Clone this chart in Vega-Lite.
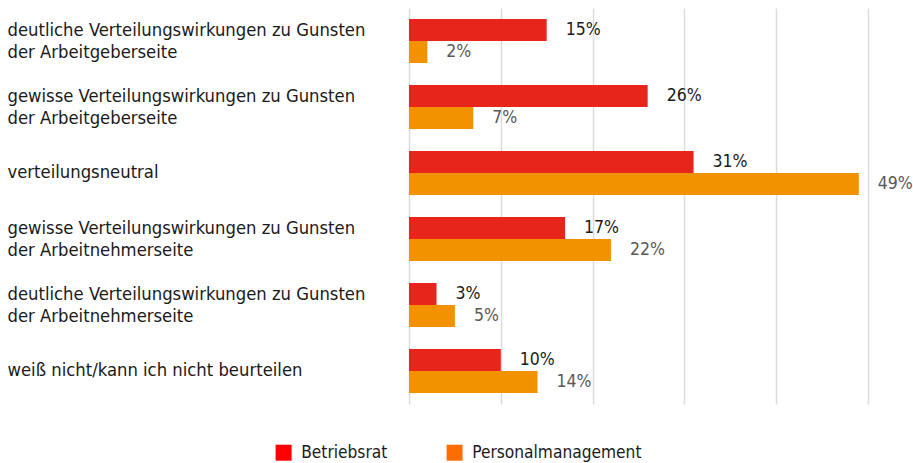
{
  "$schema": "https://vega.github.io/schema/vega-lite/v6.json",
  "autosize": "none",
  "width": 459,
  "height": 396,
  "padding": {"left": 409, "top": 8, "right": 45, "bottom": 59},
  "background": "white",
  "config": {
    "view": {"stroke": null},
    "font": "DejaVu Sans Condensed, Roboto, sans-serif",
    "axis": {"labelFont": "DejaVu Sans Condensed, Roboto, sans-serif"},
    "legend": {"labelFont": "DejaVu Sans Condensed, Roboto, sans-serif"}
  },
  "data": {
    "values": [
      {"cat": "deutliche Verteilungswirkungen zu Gunsten|der Arbeitgeberseite", "order": 1, "series": "Betriebsrat", "legendkey": "Betriebsrat", "value": 0.15},
      {"cat": "deutliche Verteilungswirkungen zu Gunsten|der Arbeitgeberseite", "order": 1, "series": "Personalmanagement", "legendkey": "Personalmanagement", "value": 0.02},
      {"cat": "gewisse Verteilungswirkungen zu Gunsten|der Arbeitgeberseite", "order": 2, "series": "Betriebsrat", "legendkey": "Betriebsrat", "value": 0.26},
      {"cat": "gewisse Verteilungswirkungen zu Gunsten|der Arbeitgeberseite", "order": 2, "series": "Personalmanagement", "legendkey": "Personalmanagement", "value": 0.07},
      {"cat": "verteilungsneutral", "order": 3, "series": "Betriebsrat", "legendkey": "Betriebsrat", "value": 0.31},
      {"cat": "verteilungsneutral", "order": 3, "series": "Personalmanagement", "legendkey": "Personalmanagement", "value": 0.49},
      {"cat": "gewisse Verteilungswirkungen zu Gunsten|der Arbeitnehmerseite", "order": 4, "series": "Betriebsrat", "legendkey": "Betriebsrat", "value": 0.17},
      {"cat": "gewisse Verteilungswirkungen zu Gunsten|der Arbeitnehmerseite", "order": 4, "series": "Personalmanagement", "legendkey": "Personalmanagement", "value": 0.22},
      {"cat": "deutliche Verteilungswirkungen zu Gunsten|der Arbeitnehmerseite", "order": 5, "series": "Betriebsrat", "legendkey": "Betriebsrat", "value": 0.03},
      {"cat": "deutliche Verteilungswirkungen zu Gunsten|der Arbeitnehmerseite", "order": 5, "series": "Personalmanagement", "legendkey": "Personalmanagement", "value": 0.05},
      {"cat": "weiß nicht/kann ich nicht beurteilen", "order": 6, "series": "Betriebsrat", "legendkey": "Betriebsrat", "value": 0.10},
      {"cat": "weiß nicht/kann ich nicht beurteilen", "order": 6, "series": "Personalmanagement", "legendkey": "Personalmanagement", "value": 0.14}
    ]
  },
  "encoding": {
    "y": {
      "field": "cat", "type": "nominal", "sort": {"field": "order", "op": "min"},
      "scale": {"paddingInner": 0.3333, "paddingOuter": 0.1667},
      "axis": {
        "title": null, "domain": false, "ticks": false, "grid": false,
        "labelAlign": "left", "labelBaseline": "middle", "labelPadding": 402,
        "labelFontSize": 18.3, "labelColor": "#1a1a1a", "labelLimit": 0,
        "labelLineHeight": 22,
        "labelOffset": {"condition": {"test": "indexof(datum.value, '|') >= 0", "value": -10}, "value": 0},
        "labelExpr": "split(datum.value, '|')"
      }
    },
    "yOffset": {"field": "series", "type": "nominal", "sort": ["Betriebsrat", "Personalmanagement"], "scale": {"paddingInner": 0}},
    "x": {
      "field": "value", "type": "quantitative",
      "scale": {"domain": [0, 0.5], "nice": false},
      "axis": {
        "title": null, "labels": false, "ticks": false, "domain": false,
        "values": [0, 0.1, 0.2, 0.3, 0.4, 0.5],
        "grid": true, "gridColor": "#dcdcdc", "gridWidth": 1.5
      }
    }
  },
  "layer": [
    {
      "mark": {"type": "bar"},
      "encoding": {
        "fill": {
          "field": "series", "type": "nominal",
          "scale": {"range": ["#e8251b", "#f39200"]},
          "legend": null
        }
      }
    },
    {
      "mark": {"type": "point", "shape": "square", "filled": true, "size": 0, "opacity": 1},
      "encoding": {
        "color": {
          "field": "legendkey", "type": "nominal",
          "scale": {"domain": ["Betriebsrat", "Personalmanagement"], "range": ["#ff0000", "#ff6d00"]},
          "legend": {
            "title": null, "orient": "none", "direction": "horizontal",
            "legendX": -134, "legendY": 436,
            "symbolType": "square", "symbolSize": 256, "symbolStrokeWidth": 0, "symbolOpacity": 1,
            "labelFontSize": 17.2, "labelColor": "#1a1a1a", "labelOffset": 9, "labelLimit": 0,
            "columnPadding": 58
          }
        }
      }
    },
    {
      "mark": {"type": "text", "align": "left", "baseline": "middle", "dx": 19, "fontSize": 17.5},
      "encoding": {
        "text": {"field": "value", "type": "quantitative", "format": ".0%"},
        "color": {"condition": {"test": "datum.series === 'Betriebsrat'", "value": "#1a1a1a"}, "value": "#595959"}
      }
    }
  ]
}
